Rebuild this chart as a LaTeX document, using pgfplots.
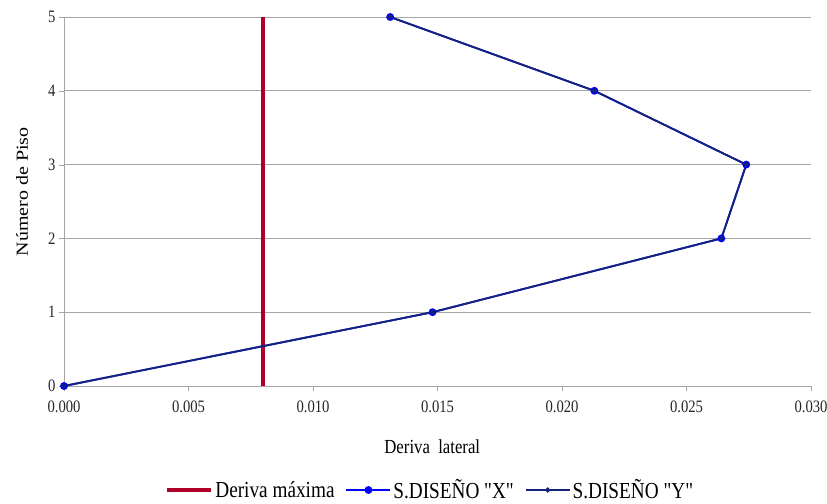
\documentclass[border=0pt]{standalone}
\usepackage{pgfplots}
\pgfplotsset{compat=1.18}
\usepackage{fontspec}
\setmainfont[FakeStretch=0.84]{Liberation Serif}
\newfontfamily\ylabfont[FakeStretch=1.18]{Liberation Serif}
\newfontfamily\legfont[FakeStretch=0.84, Ligatures=TeXOff]{Liberation Serif}
\definecolor{redline}{HTML}{B0002A}
\definecolor{xblue}{HTML}{0000FF}
\definecolor{ynavy}{HTML}{14237A}
\definecolor{gridgray}{HTML}{A6A6A6}
\begin{document}
\begin{tikzpicture}
\useasboundingbox (-64bp,-118bp) rectangle (763bp,386bp);
\begin{axis}[
  scale only axis,
  width=747bp, height=369bp,
  xmin=0, xmax=0.030, ymin=0, ymax=5,
  xtick={0,0.005,0.010,0.015,0.020,0.025,0.030},
  ytick={0,1,2,3,4,5},
  xticklabel style={font=\fontsize{17.5}{19}\selectfont, text=black!85, inner ysep=0pt, yshift=-10bp, /pgf/number format/.cd,fixed,fixed zerofill,precision=3,assume math mode=true},
  yticklabel style={font=\fontsize{17.5}{19}\selectfont, text=black!85, inner ysep=0pt, /pgf/number format/assume math mode=true},
  scaled x ticks=false,
  axis x line=bottom, axis y line=left,
  axis line style={gridgray,-},
  tick align=outside,
  major tick length=5bp,
  tick style={gridgray},
  ymajorgrids, grid style={gridgray, line width=0.8pt},
  xlabel={Deriva\ \ lateral}, ylabel={Número de Piso},
  xlabel style={font=\fontsize{20}{22}\selectfont, at={([yshift=-61bp]rel axis cs:0.493,0)}, anchor=center},
  ylabel style={font=\ylabfont\fontsize{17}{19}\selectfont, at={([xshift=-42bp]rel axis cs:0,0.526)}, anchor=center},
  legend style={at={([yshift=-104bp]rel axis cs:0.49,0)}, anchor=center, draw=none, fill=none,
    legend columns=3, font=\legfont\fontsize{23}{25}\selectfont, inner sep=0pt,
    /tikz/every even column/.append style={column sep=9bp},
    /tikz/every odd column/.append style={column sep=0bp}},
  legend image code/.code={\draw[mark repeat=2,mark phase=2,#1] plot coordinates {(0bp,0bp) (22bp,0bp) (44bp,0bp)};},
  legend cell align=left,
  clip=false,
]
\addplot[redline, line width=4.5pt] coordinates {(0.008,0) (0.008,5)};
\addlegendentry{Deriva máxima}
\addplot[xblue, line width=1.8pt, mark=*, mark size=3pt, mark options={fill=xblue, draw=xblue}] coordinates {
(0,0) (0.0148,1) (0.0264,2) (0.0274,3) (0.0213,4) (0.0131,5)};
\addlegendentry{S.DISEÑO "X"}
\addplot[ynavy, line width=1.8pt, mark=*, mark size=1.6pt, mark options={fill=ynavy, draw=ynavy}] coordinates {
(0,0) (0.0148,1) (0.0264,2) (0.0274,3) (0.0213,4) (0.0131,5)};
\addlegendentry{S.DISEÑO "Y"}
\end{axis}
\end{tikzpicture}
\end{document}
